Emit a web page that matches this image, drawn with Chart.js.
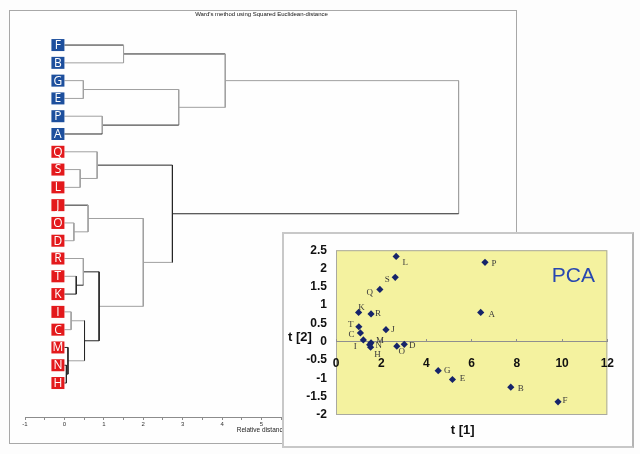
<!DOCTYPE html>
<html>
<head>
<meta charset="utf-8">
<title>Ward dendrogram and PCA</title>
<script src="https://cdn.jsdelivr.net/npm/chart.js@4.4.0/dist/chart.umd.min.js"></script>
<style>
  html, body { margin: 0; padding: 0; background: #fdfdfd; }
  body { width: 640px; height: 454px; position: relative; overflow: hidden; }
  #dendroBox { position: absolute; left: 9px; top: 10px; width: 506px; height: 432px; border: 1px solid #a8a8a8; background: #fefefe; }
  #pcaBox { position: absolute; left: 282px; top: 232px; width: 348px; height: 212px; border: 2px solid #c8c8c8; border-right-color: #b4b4b4; background: #fefefe; }
  canvas { display: block; }
</style>
</head>
<body>
<div id="dendroBox"><canvas id="dendro" width="506" height="432"></canvas></div>
<div id="pcaBox"><canvas id="pca" width="348" height="212"></canvas></div>
<script>
// ---- dendrogram data (leaf order top to bottom) ----
const leaves = ["F", "B", "G", "E", "P", "A", "Q", "S", "L", "J", "O", "D", "R", "T", "K", "I", "C", "M", "N", "H"];
const blueLeaves = ["F", "B", "G", "E", "P", "A"];
// linkage: ids 0-19 are leaves, merge k creates id 20+k
const mergeLeft   = [18, 17, 15, 10, 13, 7, 2, 12, 22, 9, 6, 27, 4, 0, 29, 30, 26, 33, 37];
const mergeRight  = [19, 20, 16, 11, 14, 8, 3, 24, 21, 23, 25, 28, 5, 1, 31, 34, 32, 36, 35];
const mergeHeight = [0.05, 0.09, 0.17, 0.24, 0.30, 0.40, 0.48, 0.48, 0.51, 0.60, 0.83, 0.88, 0.96, 1.50, 2.00, 2.74, 2.90, 4.08, 10.0];

// ---- PCA score data ----
const pcaNames = ["L", "P", "S", "Q", "K", "R", "A", "T", "J", "C", "I", "M", "N", "H", "O", "D", "G", "E", "B", "F"];
const t1 = [2.66, 6.59, 2.62, 1.94, 1.00, 1.55, 6.40, 1.01, 2.21, 1.08, 1.21, 1.55, 1.49, 1.53, 2.69, 3.02, 4.52, 5.15, 7.73, 9.82];
const t2 = [2.33, 2.17, 1.76, 1.43, 0.80, 0.76, 0.80, 0.41, 0.33, 0.24, 0.05, -0.03, -0.08, -0.15, -0.12, -0.07, -0.79, -1.03, -1.24, -1.64];

Chart.defaults.font.family = "'Liberation Sans', Arial, sans-serif";
Chart.defaults.animation = false;

// line shades per merge: left arm, vertical, right arm (d = dark, l = light)
const armShade = ["ddd", "ddd", "lll", "lll", "ldd", "lll", "lll", "lld", "ldl", "dll",
                  "lll", "ddd", "lld", "dll", "lll", "ddl", "lld", "dll", "lld"];
const DARK = "#262626", LIGHT = "#a0a0a0";

// node positions: leaves at their index, merges at the middle of their children
const nodeY = leaves.map((_, i) => i);
const nodeH = leaves.map(() => 0);
mergeLeft.forEach((a, k) => {
  const b = mergeRight[k];
  nodeY.push((nodeY[a] + nodeY[b]) / 2);
  nodeH.push(mergeHeight[k]);
});

const dendroSets = mergeLeft.map((a, k) => {
  const b = mergeRight[k];
  const h = mergeHeight[k];
  return {
    data: [
      { x: nodeH[a], y: nodeY[a] },
      { x: h, y: nodeY[a] },
      { x: h, y: nodeY[b] },
      { x: nodeH[b], y: nodeY[b] }
    ],
    showLine: true,
    pointRadius: 0,
    borderWidth: 1,
    borderColor: LIGHT,
    segment: {
      borderColor: (ctx) => armShade[k][ctx.p0DataIndex] === "d" ? DARK : LIGHT
    }
  };
});

const leafBoxes = {
  id: "leafBoxes",
  afterDatasetsDraw(chart) {
    const { ctx, scales: { x, y } } = chart;
    const right = x.getPixelForValue(0);
    ctx.save();
    ctx.font = "12px 'Open Sans', 'DejaVu Sans', sans-serif";
    ctx.textAlign = "center";
    ctx.textBaseline = "middle";
    leaves.forEach((name, i) => {
      const cy = y.getPixelForValue(i);
      ctx.fillStyle = blueLeaves.includes(name) ? "#1d4f9d" : "#e3191c";
      ctx.fillRect(right - 13, cy - 6, 13, 12);
      ctx.fillStyle = "#ffffff";
      ctx.fillText(name, right - 6.5, cy + 0.5);
    });
    ctx.restore();
  }
};

new Chart(document.getElementById("dendro"), {
  type: "scatter",
  data: { datasets: dendroSets },
  plugins: [leafBoxes],
  options: {
    responsive: false,
    layout: { padding: { left: 15, top: 0, right: 18, bottom: 9 } },
    plugins: {
      legend: { display: false },
      tooltip: { enabled: false },
      title: {
        display: true,
        text: "Ward's method using Squared Euclidean-distance",
        font: { size: 6, weight: "normal" },
        color: "#111",
        padding: 0
      }
    },
    scales: {
      x: {
        type: "linear",
        min: -1,
        max: 11,
        afterFit: (s) => { s.height = 17; },
        border: { color: "#8c8c8c" },
        grid: { drawOnChartArea: false, tickLength: 3, color: "#8c8c8c" },
        ticks: {
          stepSize: 0.5,
          autoSkip: false,
          maxRotation: 0,
          padding: 1,
          font: { size: 6 },
          color: "#333",
          callback: (v) => Number.isInteger(v) ? v : ""
        },
        title: { display: true, text: "Relative distance", font: { size: 6.5 }, color: "#222", padding: 0 }
      },
      y: { type: "linear", display: false, reverse: true, min: -1.51, max: 20.91 }
    }
  }
});

// ---- PCA plot ----
const labelOffset = {
  L: [9, 6], P: [9, 1], S: [-8, 2], Q: [-10, 3], K: [3, -5], R: [7, 0], A: [11, 2],
  T: [-8, -2], J: [7, 0], C: [-9, 2], I: [-8, 7], M: [9, -2], N: [9, 1], H: [7, 7],
  O: [5, 5], D: [8, 1], G: [9, 0], E: [10, -1], B: [10, 1], F: [7, -1]
};

const pcaDecor = {
  id: "pcaDecor",
  beforeDraw(chart) {
    const { ctx, chartArea: a } = chart;
    ctx.save();
    ctx.fillStyle = "#f4f29f";
    ctx.fillRect(a.left, a.top, a.width, a.height);
    ctx.strokeStyle = "#a9a9a0";
    ctx.lineWidth = 1;
    ctx.strokeRect(a.left + 0.5, a.top + 0.5, a.width - 1, a.height - 1);
    ctx.restore();
  },
  afterDraw(chart) {
    const { ctx, scales: { x, y } } = chart;
    ctx.save();
    ctx.font = "9px 'Liberation Serif', 'Times New Roman', serif";
    ctx.fillStyle = "#3a3a3a";
    ctx.textAlign = "center";
    ctx.textBaseline = "middle";
    pcaNames.forEach((n, i) => {
      const off = labelOffset[n];
      ctx.fillText(n, x.getPixelForValue(t1[i]) + off[0], y.getPixelForValue(t2[i]) + off[1]);
    });
    ctx.font = "bold 13px 'Liberation Sans', Arial, sans-serif";
    ctx.fillStyle = "#111";
    ctx.fillText("t [2]", 16, 103);
    ctx.fillText("t [1]", x.getPixelForValue(5.6), 196);
    ctx.font = "21px 'Liberation Sans', Arial, sans-serif";
    ctx.fillStyle = "#2747b0";
    ctx.fillText("PCA", x.getPixelForValue(10.5), y.getPixelForValue(1.78));
    ctx.restore();
  }
};

const plainNum = (v) => String(Math.round(v * 10) / 10);

new Chart(document.getElementById("pca"), {
  type: "scatter",
  data: {
    datasets: [{
      data: t1.map((v, i) => ({ x: v, y: t2[i] })),
      pointStyle: "rectRot",
      pointRadius: 3.6,
      pointBackgroundColor: "#16246a",
      pointBorderColor: "#16246a",
      pointBorderWidth: 0
    }]
  },
  plugins: [pcaDecor],
  options: {
    responsive: false,
    layout: { padding: { left: 0, top: 15, right: 10, bottom: 31 } },
    plugins: { legend: { display: false }, tooltip: { enabled: false } },
    scales: {
      x: {
        type: "linear",
        min: 0,
        max: 12,
        position: { y: 0 },
        border: { color: "#8f8f8f" },
        grid: { drawOnChartArea: false, tickLength: -3, color: "#8f8f8f" },
        ticks: { stepSize: 2, padding: 18, maxRotation: 0, font: { size: 12, weight: "bold" }, color: "#111", callback: plainNum }
      },
      y: {
        type: "linear",
        position: "left",
        min: -2,
        max: 2.5,
        afterFit: (s) => { s.width = 52; },
        border: { display: false },
        grid: { display: false, drawTicks: false },
        ticks: { stepSize: 0.5, padding: 9, font: { size: 12, weight: "bold" }, color: "#111", callback: plainNum }
      }
    }
  }
});
</script>
</body>
</html>
